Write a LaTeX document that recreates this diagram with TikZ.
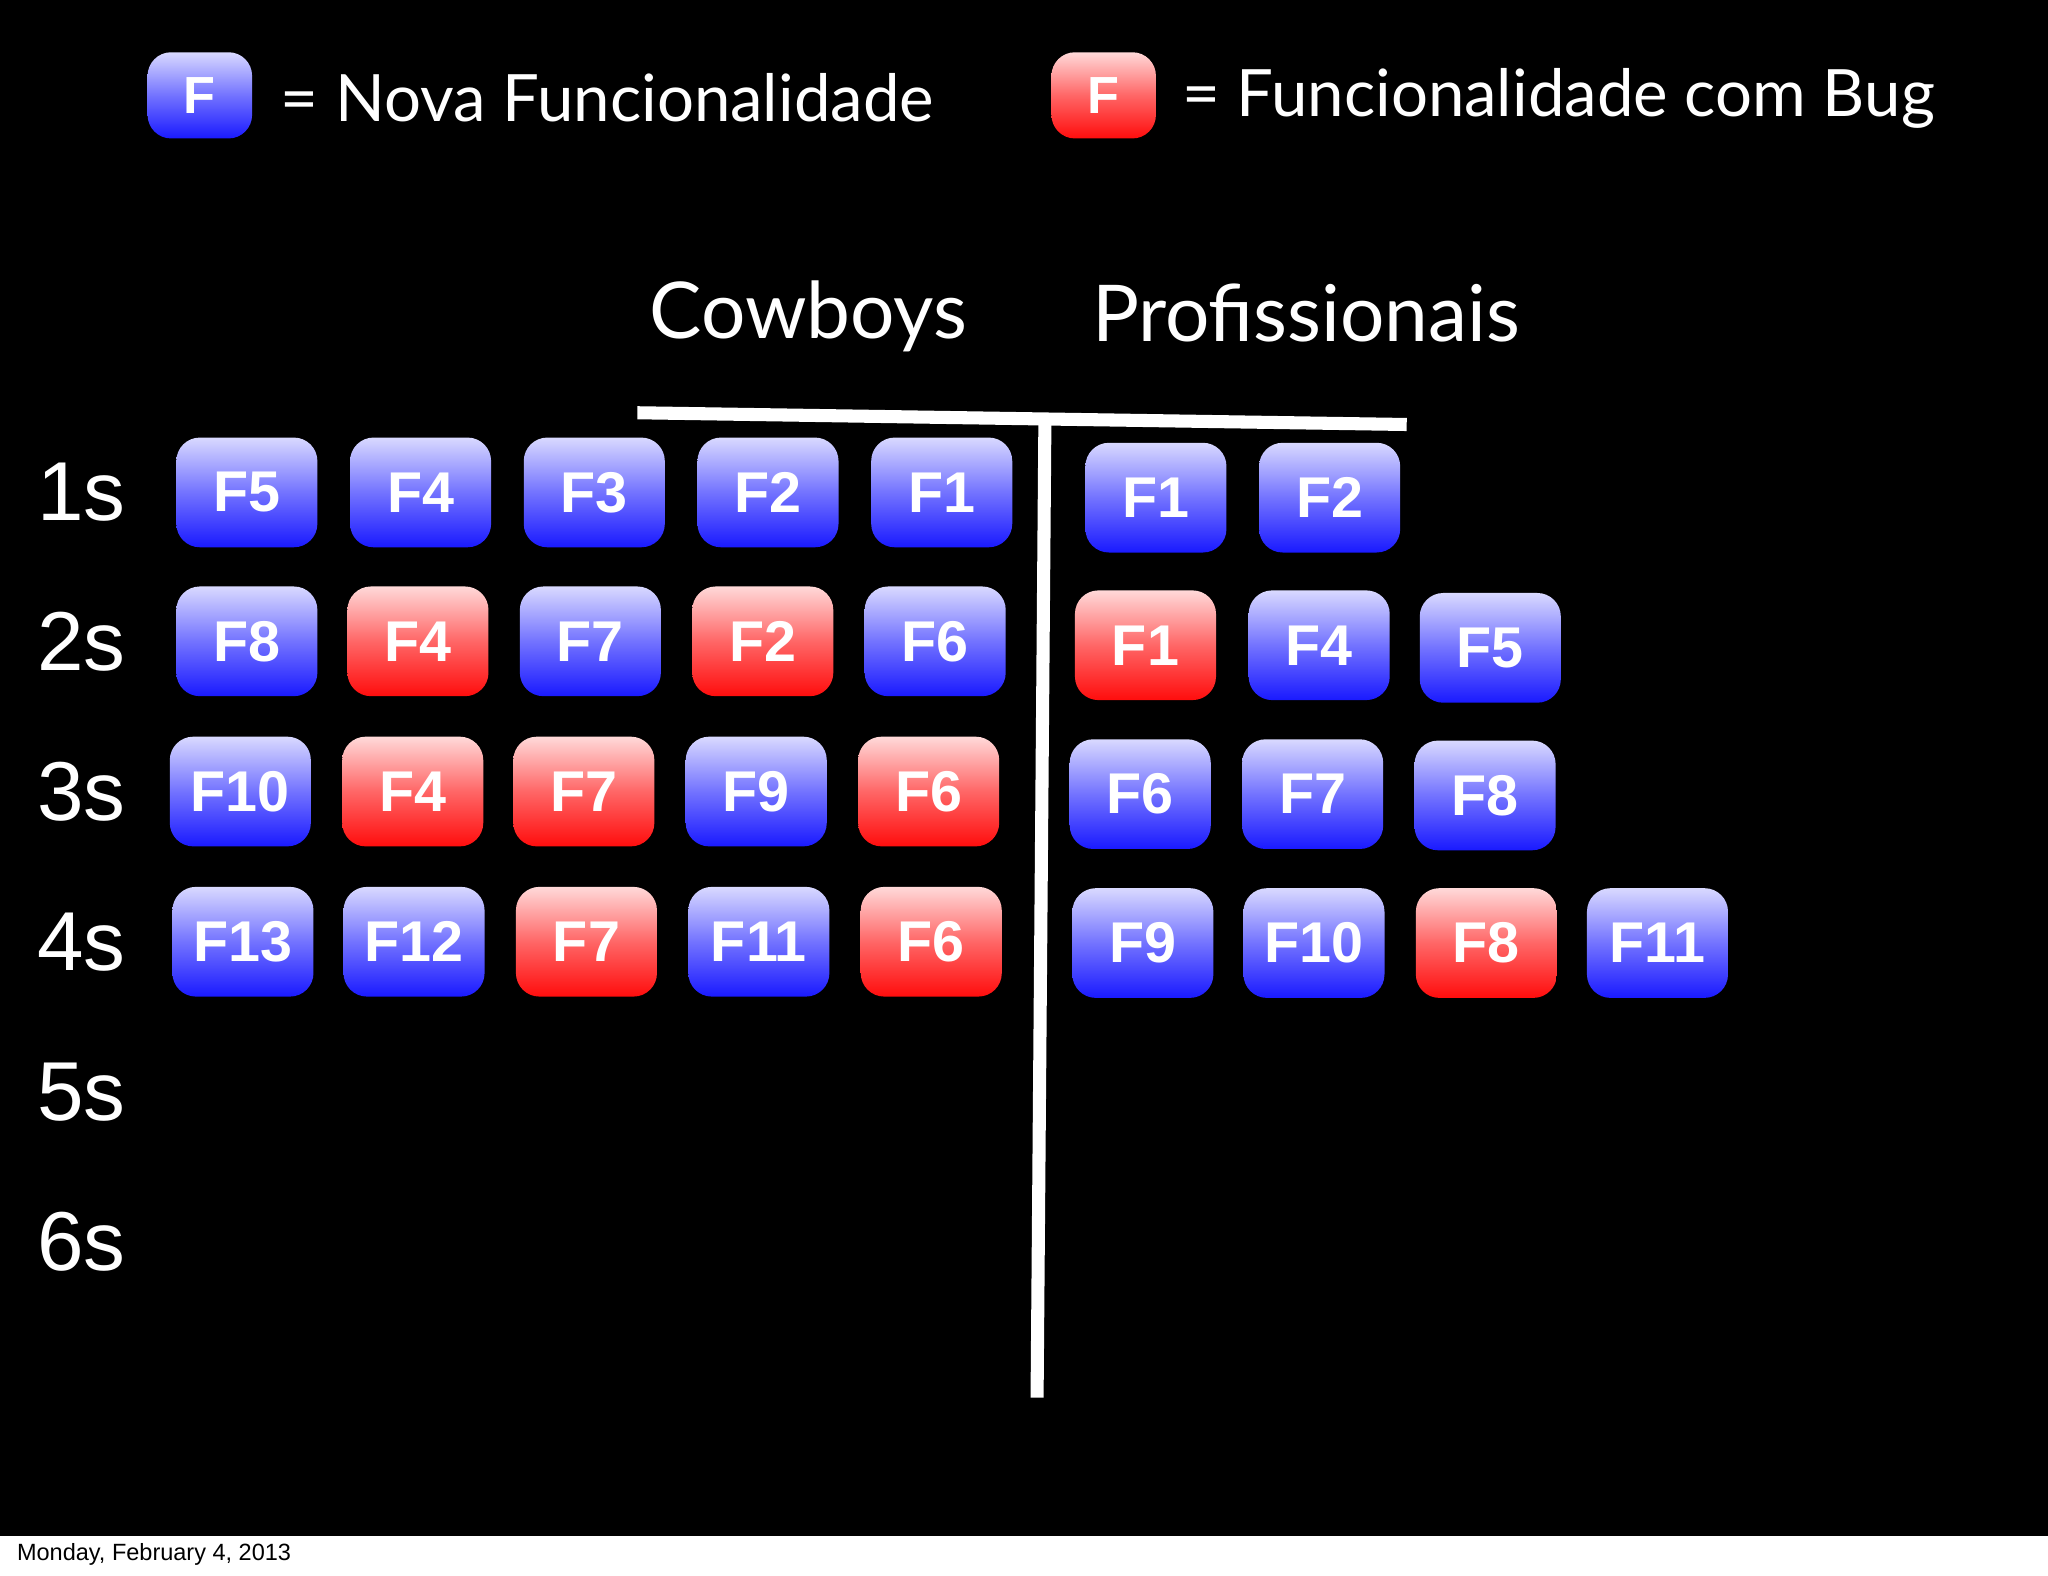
\documentclass[tikz,border=0pt]{standalone}
\usepackage{fontspec}
\setmainfont{Lato}
\newfontfamily\boxfont{Liberation Sans}
\begin{document}
\begin{tikzpicture}[x=0.5pt,y=-0.5pt,
  fb/.style={rounded corners=9pt,minimum width=54pt,minimum height=42pt,inner sep=0pt,
    font=\boxfont\bfseries\fontsize{22}{22}\selectfont,text=white},
  blu/.style={fb,top color=blue!15!white,bottom color=blue!90!white,middle color=blue!55!white},
  rd/.style={fb,top color=red!15!white,bottom color=red!95!white,middle color=red!60!white},
  lbl/.style={font=\boxfont\fontsize{32}{32}\selectfont,text=white},
  head/.style={font=\fontsize{30}{30}\selectfont,text=white},
  wl/.style={white,line width=5pt}]
\fill[black] (0,0) rectangle (1568,1176);
\fill[white] (0,1176) rectangle (1568,1206);
\useasboundingbox (0,0) rectangle (1568,1206);
\node[anchor=west,font=\boxfont\fontsize{9}{9}\selectfont] (date) at (6,1190) {Monday, February 4, 2013};
% legend
\node[blu,minimum width=40pt,minimum height=33pt,font=\boxfont\bfseries\fontsize{20}{20}\selectfont] (lb) at (153,73) {F};
\node[head,anchor=west,font=\fontsize{25}{25}\selectfont] (lbt) at (208,75) {= Nova Funcionalidade};
\node[rd,minimum width=40pt,minimum height=33pt,font=\boxfont\bfseries\fontsize{20}{20}\selectfont] (lr) at (845,73) {F};
\node[head,anchor=west,font=\fontsize{25}{25}\selectfont] (lrt) at (898,75) {= Funcionalidade com Bug};
\node[head] (cow) at (619,242) {Cowboys};
\node[head] (pro) at (1000,240) {Profissionais};
\coordinate (h1) at (488,316); \coordinate (h2) at (1077,325);
\coordinate (v1) at (800,322); \coordinate (v2) at (794,1070);
\draw[wl] (h1) -- (h2);
\draw[wl] (v1) -- (v2);
% row labels
\foreach \t/\y in {1s/377,2s/491,3s/606,4s/721,5s/836,6s/951}
  \node[lbl,anchor=east] (r\t) at (103,\y) {\t};
% row 1
\foreach \s/\x/\t [count=\i] in {blu/189/F5,blu/322/F4,blu/455/F3,blu/588/F2,blu/721/F1}
  \node[\s] (a1\i) at (\x,377) {\t};
\node[blu] (b11) at (885,381) {F1};
\node[blu] (b12) at (1018,381) {F2};
% row 2
\foreach \s/\x/\t [count=\i] in {blu/189/F8,rd/320/F4,blu/452/F7,rd/584/F2,blu/716/F6}
  \node[\s] (a2\i) at (\x,491) {\t};
\node[rd] (b21) at (877,494) {F1};
\node[blu] (b22) at (1010,494) {F4};
\node[blu] (b23) at (1141,496) {F5};
% row 3
\foreach \s/\x/\t [count=\i] in {blu/184/F10,rd/316/F4,rd/447/F7,blu/579/F9,rd/711/F6}
  \node[\s] (a3\i) at (\x,606) {\t};
\node[blu] (b31) at (873,608) {F6};
\node[blu] (b32) at (1005,608) {F7};
\node[blu] (b33) at (1137,609) {F8};
% row 4
\foreach \s/\x/\t [count=\i] in {blu/186/F13,blu/317/F12,rd/449/F7,blu/581/F11,rd/713/F6}
  \node[\s] (a4\i) at (\x,721) {\t};
\foreach \s/\x/\t [count=\i] in {blu/875/F9,blu/1006/F10,rd/1138/F8,blu/1269/F11}
  \node[\s] (b4\i) at (\x,722) {\t};
\end{tikzpicture}
\end{document}
